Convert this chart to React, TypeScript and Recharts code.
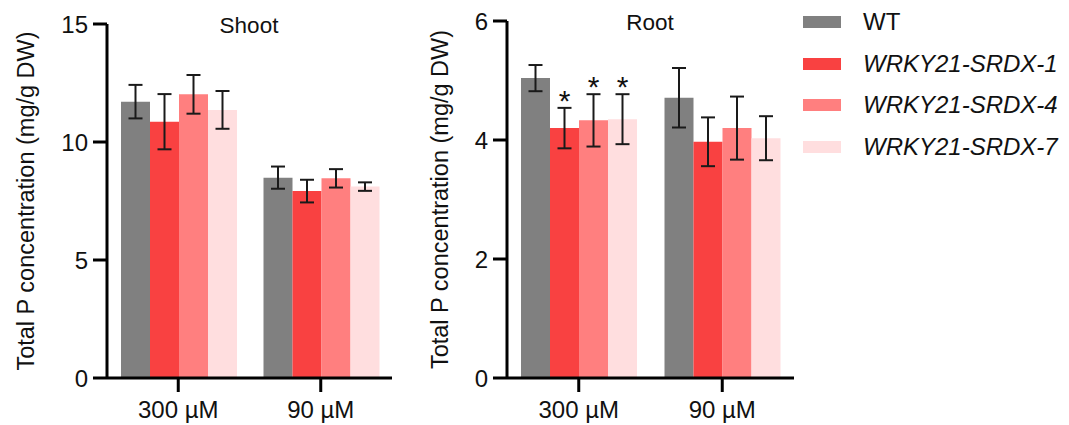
import React from "react";
import { Bar, BarChart, ErrorBar, LabelList, XAxis, YAxis } from "recharts";

const categories = ["300 µM", "90 µM"];
const seriesNames = ["WT", "WRKY21-SRDX-1", "WRKY21-SRDX-4", "WRKY21-SRDX-7"];
const seriesKeys = ["wt", "s1", "s4", "s7"];
const seriesColors = ["#808080", "#F94141", "#FF7F7F", "#FFDEDF"];

// shoot, mg/g DW
const shootWT = [11.71, 8.49];
const shootS1 = [10.86, 7.92];
const shootS4 = [12.02, 8.46];
const shootS7 = [11.36, 8.11];
const shootErrWT = [0.71, 0.47];
const shootErrS1 = [1.17, 0.48];
const shootErrS4 = [0.82, 0.39];
const shootErrS7 = [0.8, 0.18];

// root, mg/g DW
const rootWT = [5.04, 4.71];
const rootS1 = [4.2, 3.97];
const rootS4 = [4.33, 4.2];
const rootS7 = [4.35, 4.03];
const rootErrWT = [0.22, 0.5];
const rootErrS1 = [0.34, 0.41];
const rootErrS4 = [0.44, 0.53];
const rootErrS7 = [0.42, 0.37];
// significance marks (*) per series, per category
const rootSig: Record<string, boolean[]> = {
  wt: [false, false],
  s1: [true, false],
  s4: [true, false],
  s7: [true, false],
};

const shootTicks = [0, 5, 10, 15];
const rootTicks = [0, 2, 4, 6];

const FONT = "'Liberation Sans', Arial, sans-serif";

function buildRows(vals: number[][], errs: number[][]) {
  return categories.map((cat, i) => {
    const row: Record<string, string | number> = { cat };
    seriesKeys.forEach((k, s) => {
      row[k] = vals[s][i];
      row[k + "Err"] = errs[s][i];
    });
    return row;
  });
}

const shootData = buildRows(
  [shootWT, shootS1, shootS4, shootS7],
  [shootErrWT, shootErrS1, shootErrS4, shootErrS7]
);
const rootData = buildRows(
  [rootWT, rootS1, rootS4, rootS7],
  [rootErrWT, rootErrS1, rootErrS4, rootErrS7]
);

const axisStroke = { stroke: "#000", strokeWidth: 3 };
const tickStyle = { fontSize: 24, fill: "#111", fontFamily: FONT };

const yLabel = (cx: number) => (props: any) => {
  const vb = props.viewBox || {};
  const cy = vb.y + vb.height / 2;
  return (
    <text
      x={cx}
      y={cy}
      transform={`rotate(-90 ${cx} ${cy})`}
      textAnchor="middle"
      dominantBaseline="central"
      fontSize={23.5}
      fontFamily={FONT}
      fill="#111"
    >
      Total P concentration (mg/g DW)
    </text>
  );
};

function Panel({
  data,
  ticks,
  top,
  rightMargin,
  labelX,
  sig,
}: {
  data: Record<string, string | number>[];
  ticks: number[];
  top: number;
  rightMargin: number;
  labelX: number;
  sig?: Record<string, boolean[]>;
}) {
  return (
    <BarChart
      width={400}
      height={425}
      data={data}
      margin={{ top, right: rightMargin, left: 0, bottom: 0 }}
      barCategoryGap={14}
      barGap={0}
    >
      <XAxis
        dataKey="cat"
        height={47}
        axisLine={axisStroke}
        tickLine={axisStroke}
        tickSize={14}
        tickMargin={9}
        tick={tickStyle}
      />
      <YAxis
        width={107}
        domain={[0, ticks[ticks.length - 1]]}
        ticks={ticks}
        interval={0}
        axisLine={axisStroke}
        tickLine={axisStroke}
        tickSize={14}
        tickMargin={5}
        tick={tickStyle}
        label={{ content: yLabel(labelX) }}
      />
      {seriesKeys.map((k, s) => (
        <Bar key={k} dataKey={k} fill={seriesColors[s]} isAnimationActive={false}>
          <ErrorBar dataKey={k + "Err"} width={7} stroke="#1a1a1a" strokeWidth={2} />
          {sig && (
            <LabelList
              dataKey={k}
              content={(p: any) => {
                const idx = p.index;
                if (!sig[k] || !sig[k][idx]) return null;
                const v = Number(p.value);
                const err = Number(data[idx][k + "Err"]);
                const errTop = p.y - (p.height * err) / v;
                return (
                  <text
                    x={p.x + p.width / 2}
                    y={errTop + 3}
                    textAnchor="middle"
                    fontSize={30}
                    fontFamily={FONT}
                    fill="#111"
                  >
                    *
                  </text>
                );
              }}
            />
          )}
        </Bar>
      ))}
    </BarChart>
  );
}

export default function App() {
  return (
    <div
      style={{
        position: "absolute",
        left: 0,
        top: 0,
        width: 1069,
        height: 425,
        background: "#fff",
        fontFamily: FONT,
        overflow: "hidden",
      }}
    >
      <div style={{ position: "absolute", left: 0, top: 0 }}>
        <Panel data={shootData} ticks={shootTicks} top={24} rightMargin={8} labelX={26} />
      </div>
      <div style={{ position: "absolute", left: 400, top: 0 }}>
        <Panel data={rootData} ticks={rootTicks} top={21} rightMargin={6} labelX={40} sig={rootSig} />
      </div>
      <div
        style={{
          position: "absolute",
          left: 249,
          top: 26,
          transform: "translate(-50%, -50%)",
          fontSize: 22.5,
          color: "#111",
          whiteSpace: "nowrap",
        }}
      >
        Shoot
      </div>
      <div
        style={{
          position: "absolute",
          left: 650,
          top: 23,
          transform: "translate(-50%, -50%)",
          fontSize: 22.5,
          color: "#111",
          whiteSpace: "nowrap",
        }}
      >
        Root
      </div>
      {seriesNames.map((name, i) => (
        <div
          key={name}
          style={{
            position: "absolute",
            left: 803,
            top: 22 + i * 41.7,
            transform: "translateY(-50%)",
            display: "flex",
            alignItems: "center",
            whiteSpace: "nowrap",
          }}
        >
          <div style={{ width: 38, height: 12, background: seriesColors[i] }} />
          <div
            style={{
              marginLeft: 22,
              fontSize: 24,
              color: "#111",
              fontStyle: i === 0 ? "normal" : "italic",
              lineHeight: "28px",
            }}
          >
            {name}
          </div>
        </div>
      ))}
    </div>
  );
}
